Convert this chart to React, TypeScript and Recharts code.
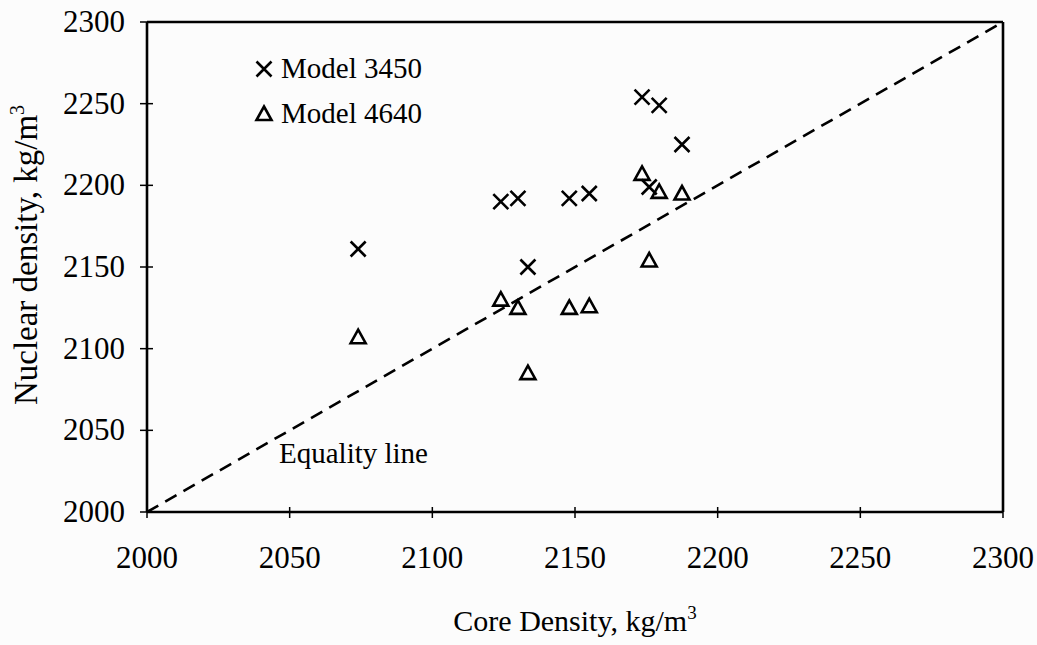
import {
  ScatterChart,
  Scatter,
  XAxis,
  YAxis,
  ReferenceLine,
  Legend,
} from 'recharts';

// Core density (x) vs nuclear density (y), kg/m3
const model3450X = [2074, 2124, 2130, 2148, 2155, 2173.5, 2179.5, 2187.5, 2176, 2133.5];
const model3450Y = [2161, 2190, 2192, 2192, 2195, 2254, 2249, 2225, 2199, 2150];

const model4640X = [2074, 2124, 2130, 2148, 2155, 2173.5, 2179.5, 2187.5, 2176, 2133.5];
const model4640Y = [2107, 2130, 2125, 2125, 2126, 2207, 2196, 2195, 2154, 2085];

const ticks = [2000, 2050, 2100, 2150, 2200, 2250, 2300];
const domain: [number, number] = [2000, 2300];

const FONT = '"Liberation Serif", "Times New Roman", serif';

const toPoints = (xs: number[], ys: number[]) => xs.map((x, i) => ({ x, y: ys[i] }));
const model3450 = toPoints(model3450X, model3450Y);
const model4640 = toPoints(model4640X, model4640Y);
const equality = [
  { x: domain[0], y: domain[0] },
  { x: domain[1], y: domain[1] },
];

const CrossMark = ({ cx, cy }: any) => {
  const s = 7.5;
  return (
    <path
      d={`M${cx - s},${cy - s}L${cx + s},${cy + s}M${cx - s},${cy + s}L${cx + s},${cy - s}`}
      stroke="#000"
      strokeWidth={2.6}
      fill="none"
    />
  );
};

const TriangleMark = ({ cx, cy }: any) => (
  <path
    d={`M${cx},${cy - 7.5}L${cx + 7.5},${cy + 6}L${cx - 7.5},${cy + 6}Z`}
    stroke="#000"
    strokeWidth={2.6}
    fill="none"
  />
);

const XTick = ({ x, y, payload }: any) => (
  <g>
    <line x1={x} x2={x} y1={y - 5} y2={y + 6} stroke="#000" strokeWidth={1.5} />
    <text x={x} y={y + 56} textAnchor="middle" fontSize={31} fontFamily={FONT} fill="#000">
      {payload.value}
    </text>
  </g>
);

const YTick = ({ x, y, payload }: any) => (
  <g>
    <line x1={x - 7} x2={x + 6} y1={y} y2={y} stroke="#000" strokeWidth={1.5} />
    <text x={x - 22} y={y + 10} textAnchor="end" fontSize={31} fontFamily={FONT} fill="#000">
      {payload.value}
    </text>
  </g>
);

const LegendContent = () => (
  <div style={{ fontFamily: FONT, fontSize: 29, color: '#000' }}>
    {[
      { name: 'Model 3450', Mark: CrossMark },
      { name: 'Model 4640', Mark: TriangleMark },
    ].map(({ name, Mark }) => (
      <div key={name} style={{ display: 'flex', alignItems: 'center', height: 45 }}>
        <svg width={20} height={20} style={{ marginRight: 7 }}>
          <Mark cx={10} cy={10} />
        </svg>
        <span>{name}</span>
      </div>
    ))}
  </div>
);

export default function App() {
  return (
    <div
      style={{
        position: 'absolute',
        left: 0,
        top: 0,
        width: 1037,
        height: 645,
        background: '#fcfcfc',
      }}
    >
      <ScatterChart
        width={1037}
        height={645}
        margin={{ top: 22, right: 34, bottom: 0, left: 0 }}
      >
        <XAxis
          type="number"
          dataKey="x"
          domain={domain}
          ticks={ticks}
          allowDataOverflow
          height={133}
          tickSize={0}
          tickMargin={0}
          tickLine={false}
          axisLine={{ stroke: '#000', strokeWidth: 2.6 }}
          tick={<XTick />}
          label={(props: any) => {
            const vb = props.viewBox || { x: 147, y: 512, width: 856 };
            return (
              <text
                x={vb.x + vb.width / 2}
                y={631}
                textAnchor="middle"
                fontSize={30}
                fontFamily={FONT}
                fill="#000"
              >
                Core Density, kg/m
                <tspan dy={-12} fontSize={19}>
                  3
                </tspan>
              </text>
            );
          }}
        />
        <YAxis
          type="number"
          dataKey="y"
          domain={domain}
          ticks={ticks}
          allowDataOverflow
          width={147}
          tickSize={0}
          tickMargin={0}
          tickLine={false}
          axisLine={{ stroke: '#000', strokeWidth: 2.6 }}
          tick={<YTick />}
          label={(props: any) => {
            const vb = props.viewBox || { y: 22, height: 490 };
            const cy = vb.y + vb.height / 2 - 12;
            return (
              <text
                x={37}
                y={cy}
                transform={`rotate(-90, 37, ${cy})`}
                textAnchor="middle"
                fontSize={33}
                fontFamily={FONT}
                fill="#000"
              >
                Nuclear density, kg/m
                <tspan dy={-13} fontSize={20}>
                  3
                </tspan>
              </text>
            );
          }}
        />
        <ReferenceLine y={2300} stroke="#000" strokeWidth={2.6} />
        <ReferenceLine x={2300} stroke="#000" strokeWidth={2.6} />
        <ReferenceLine
          segment={equality}
          stroke="#000"
          strokeWidth={2.6}
          strokeDasharray="13 8"
        />
        <Legend
          layout="vertical"
          align="center"
          verticalAlign="middle"
          wrapperStyle={{ top: 46, left: 254, width: 'auto', height: 'auto' }}
          content={() => <LegendContent />}
        />
        <Scatter
          name="Model 3450"
          data={model3450}
          shape={<CrossMark />}
          isAnimationActive={false}
        />
        <Scatter
          name="Model 4640"
          data={model4640}
          shape={<TriangleMark />}
          isAnimationActive={false}
        />
      </ScatterChart>
      <div
        style={{
          position: 'absolute',
          left: 279,
          top: 436,
          fontFamily: FONT,
          fontSize: 29,
          lineHeight: '34px',
          color: '#000',
        }}
      >
        Equality line
      </div>
    </div>
  );
}
